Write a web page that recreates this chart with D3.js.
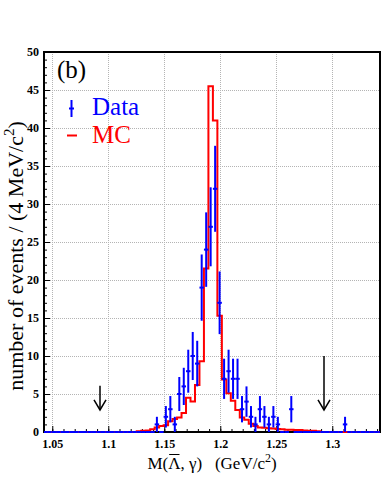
<!DOCTYPE html>
<html>
<head>
<meta charset="utf-8">
<script src="https://cdn.jsdelivr.net/npm/d3@7/dist/d3.min.js"></script>
<style>
body { margin: 0; background: #fff; }
svg text { font-family: 'Liberation Serif', 'Times New Roman', serif; }
</style>
</head>
<body>
<script>
// 4 MeV/c^2 bins, first bin low edge (GeV/c^2)
var binStart = 1.0414,
    binWidth = 0.004;
// data counts per bin
var dataCounts = [
    0, 0, 0, 0, 0, 0, 0, 0, 0, 0,
    0, 0, 0, 0, 0, 0, 0, 0, 0, 0,
    0, 0, 0, 0, 0, 1, 0, 2, 3, 1,
    5, 6, 8, 10, 9, 19, 24, 27, 32, 17,
    7, 8, 7, 7, 3, 4, 2, 1, 3, 2,
    1, 2, 1, 0, 0, 3, 0, 0, 0, 0,
    0, 0, 0, 0, 0, 0, 0, 1, 0, 0,
    0, 0, 0, 0, 0, 0
];
// MC expectation per bin
var mcCounts = [
    0, 0, 0, 0, 0, 0, 0, 0, 0, 0,
    0, 0, 0, 0, 0, 0, 0, 0, 0, 0,
    0, 0.1, 0.15, 0.2, 0.35, 0.6, 0.8, 0.9, 1.4, 1.7,
    1.9, 2.5, 4.5, 4.0, 6.2, 9.3, 21.5, 45.5, 41.0, 15.3,
    6.9, 5.1, 4.1, 2.9, 1.9, 1.6, 1.1, 0.8, 0.6, 0.55,
    0.5, 0.45, 0.4, 0.35, 0.3, 0.3, 0.25, 0.25, 0.2, 0.15,
    0.15, 0.1, 0, 0, 0, 0, 0, 0, 0, 0,
    0, 0, 0, 0, 0, 0
];
var xTicks = [1.05, 1.1, 1.15, 1.2, 1.25, 1.3];
var yTicks = [0, 5, 10, 15, 20, 25, 30, 35, 40, 45, 50];
// signal window cuts (arrows), top of each arrow, arrow tip
var cutValues = [1.0926, 1.2926];
var arrowTops = [6.1, 10];
var arrowTip = 2.9;
var legendLabels = ['Data', 'MC'];
var legendColors = ['#0000ff', '#ff0000'];

var w = 382,
    h = 494;
var pl = 44, pr = 380, pt = 52, pb = 432; // plot frame

var svg = d3.select('body')
    .append('svg')
    .attr('width', w)
    .attr('height', h);

var x = d3.scaleLinear().domain([1.0426, 1.3426]).range([pl, pr]);
var y = d3.scaleLinear().domain([0, 50]).range([pb, pt]);

svg.append('clipPath')
    .attr('id', 'plotclip')
    .append('rect')
    .attr('x', pl)
    .attr('y', pt - 2)
    .attr('width', pr - pl)
    .attr('height', pb - pt + 4);

// grid
var grid = svg.append('g')
    .attr('stroke', '#b4b4b4')
    .attr('stroke-width', 1)
    .attr('stroke-dasharray', '1,1');
grid.selectAll('.vg')
    .data(xTicks)
    .enter()
    .append('line')
    .attr('x1', function(d) { return Math.round(x(d)) + 0.5; })
    .attr('x2', function(d) { return Math.round(x(d)) + 0.5; })
    .attr('y1', pt)
    .attr('y2', pb);
grid.selectAll('.hg')
    .data(yTicks.slice(1, -1))
    .enter()
    .append('line')
    .attr('y1', function(d) { return Math.round(y(d)) + 0.5; })
    .attr('y2', function(d) { return Math.round(y(d)) + 0.5; })
    .attr('x1', pl)
    .attr('x2', pr);

// axes (ticks pointing inward)
var fmt = function(d) { return d3.format('')(d); };
var xAxis = d3.axisBottom(x)
    .tickValues(xTicks)
    .tickSize(-6)
    .tickPadding(7)
    .tickFormat(fmt);
var xMinor = d3.axisBottom(x)
    .tickValues(d3.range(1.05, 1.345, 0.01))
    .tickSize(-3)
    .tickFormat('');
var yAxis = d3.axisLeft(y)
    .tickValues(yTicks)
    .tickSize(-6)
    .tickPadding(5);
var yMinor = d3.axisLeft(y)
    .tickValues(d3.range(0, 51, 1))
    .tickSize(-3)
    .tickFormat('');

[[xAxis, 'translate(0,' + pb + ')'], [xMinor, 'translate(0,' + pb + ')'],
 [yAxis, 'translate(' + pl + ',0)'], [yMinor, 'translate(' + pl + ',0)']].forEach(function(a) {
    var g = svg.append('g')
        .attr('transform', a[1])
        .call(a[0]);
    g.select('.domain').remove();
    g.selectAll('line').attr('stroke', '#000').attr('stroke-width', 1);
    g.selectAll('text')
        .attr('font-family', "'Liberation Serif', serif")
        .attr('font-weight', 'bold')
        .attr('font-size', 12)
        .attr('fill', '#000');
});

// frame
svg.append('rect')
    .attr('x', pl)
    .attr('y', pt)
    .attr('width', pr - pl)
    .attr('height', pb - pt)
    .attr('fill', 'none')
    .attr('stroke', '#000')
    .attr('stroke-width', 2);

var bins = dataCounts.map(function(d, i) {
    return { lo: binStart + i * binWidth, hi: binStart + (i + 1) * binWidth, n: d, mc: mcCounts[i] };
});

// MC histogram
var mcPts = [];
bins.forEach(function(b) {
    mcPts.push([b.lo, b.mc]);
    mcPts.push([b.hi, b.mc]);
});
svg.append('path')
    .attr('clip-path', 'url(#plotclip)')
    .attr('d', d3.line()
        .x(function(d) { return x(d[0]); })
        .y(function(d) { return y(d[1]); })(mcPts))
    .attr('fill', 'none')
    .attr('stroke', '#ff0000')
    .attr('stroke-width', 2)
    .attr('stroke-linejoin', 'miter');

// data points with sqrt(N) errors
var dg = svg.append('g')
    .attr('clip-path', 'url(#plotclip)')
    .attr('stroke', '#0000ff')
    .attr('stroke-width', 2);
dg.selectAll('.xerr')
    .data(bins)
    .enter()
    .append('line')
    .attr('x1', function(d) { return x(d.lo); })
    .attr('x2', function(d) { return x(d.hi); })
    .attr('y1', function(d) { return y(d.n); })
    .attr('y2', function(d) { return y(d.n); });
dg.selectAll('.yerr')
    .data(bins.filter(function(d) { return d.n > 0; }))
    .enter()
    .append('line')
    .attr('x1', function(d) { return x((d.lo + d.hi) / 2); })
    .attr('x2', function(d) { return x((d.lo + d.hi) / 2); })
    .attr('y1', function(d) { return y(d.n - Math.sqrt(d.n)); })
    .attr('y2', function(d) { return y(d.n + Math.sqrt(d.n)); });

// cut arrows
cutValues.forEach(function(c, i) {
    var ax = x(c), tip = y(arrowTip);
    svg.append('line')
        .attr('x1', ax).attr('x2', ax)
        .attr('y1', y(arrowTops[i])).attr('y2', tip)
        .attr('stroke', '#000').attr('stroke-width', 1.5);
    svg.append('polyline')
        .attr('points', [[ax - 6, tip - 10], [ax, tip], [ax + 6, tip - 10]].join(' '))
        .attr('fill', 'none')
        .attr('stroke', '#000').attr('stroke-width', 1.5);
});

// legend
svg.append('text')
    .attr('x', 57).attr('y', 78)
    .attr('font-size', 25)
    .text('(b)');
svg.append('line')
    .attr('x1', 71.5).attr('x2', 71.5).attr('y1', 100).attr('y2', 117)
    .attr('stroke', legendColors[0]).attr('stroke-width', 2);
svg.append('line')
    .attr('x1', 69).attr('x2', 74).attr('y1', 108.5).attr('y2', 108.5)
    .attr('stroke', legendColors[0]).attr('stroke-width', 2);
svg.append('line')
    .attr('x1', 67).attr('x2', 77).attr('y1', 135.5).attr('y2', 135.5)
    .attr('stroke', legendColors[1]).attr('stroke-width', 2);
legendLabels.forEach(function(l, i) {
    svg.append('text')
        .attr('x', 92).attr('y', 115 + i * 28)
        .attr('font-size', 25)
        .attr('fill', legendColors[i])
        .text(l);
});

// axis titles
var yt = svg.append('text')
    .attr('transform', 'translate(23,256) rotate(-90)')
    .attr('text-anchor', 'middle')
    .attr('font-size', 22);
yt.append('tspan').text('number of events / (4 MeV/c');
yt.append('tspan').attr('font-size', 15).attr('dy', -9).text('2');
yt.append('tspan').attr('dy', 9).text(')');

var xt = svg.append('text')
    .attr('x', 212).attr('y', 469)
    .attr('text-anchor', 'middle')
    .attr('font-size', 17)
    .style('white-space', 'pre');
xt.append('tspan').text('M(\u039b, \u03b3)   (GeV/c');
xt.append('tspan').attr('font-size', 12).attr('dy', -7).text('2');
xt.append('tspan').attr('dy', 7).text(')');
// bar over Lambda
var n = xt.node();
var p0 = n.getStartPositionOfChar(2), p1 = n.getEndPositionOfChar(2);
svg.append('line')
    .attr('x1', p0.x + 1).attr('x2', p1.x - 1)
    .attr('y1', 469 - 14.5).attr('y2', 469 - 14.5)
    .attr('stroke', '#000').attr('stroke-width', 1);
</script>
</body>
</html>
